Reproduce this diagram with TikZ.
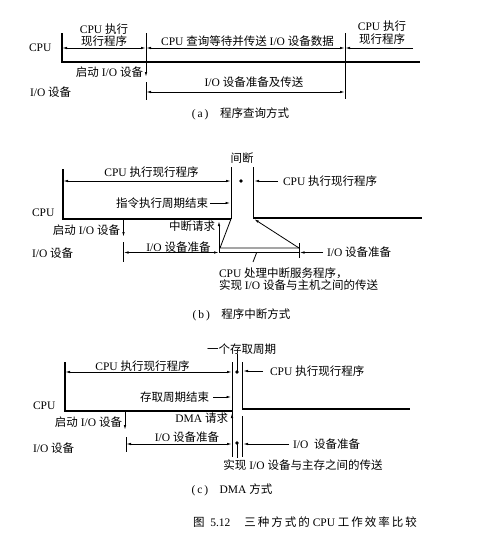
\documentclass[tikz,border=0pt]{standalone}
\usepackage{fontspec}
\setmainfont{Liberation Serif}
\newfontfamily\zhfont{Noto Sans CJK SC}
\usetikzlibrary{arrows.meta}
\newcommand\zh[1]{{\zhfont #1}}
\begin{document}
\begin{tikzpicture}[x=1pt,y=-1pt,
  font=\fontsize{11.5}{12.5}\selectfont,
  ln/.style={line width=0.8pt},
  base/.style={line width=1.1pt},
  arr/.style={ln,-{Latex[length=5pt,width=2.4pt]}},
  darr/.style={ln,{Latex[length=5pt,width=2.4pt]}-{Latex[length=5pt,width=2.4pt]}},
  lbl/.style={inner sep=0pt,outer sep=0pt},
  dot/.style={fill=black}]
\useasboundingbox[fill=white] (0,0) rectangle (490,554);

% ---------------- (a) ----------------
\node[lbl,anchor=west] (aCPU) at (29,48) {CPU};
\node[lbl,anchor=west] (aIO) at (30,92) {I/O \zh{设备}};
\draw[base] (62,33) -- (62,62) -- (420,62);
\draw[ln] (146,33) -- (146,62);
\draw[arr] (146,62) -- (146,77);
\draw[ln] (146,82) -- (146,100);
\draw[ln] (345,33) -- (345,99);
\draw[darr] (62,48) -- (146,48);
\draw[darr] (146,48) -- (345,48);
\draw[arr] (413,48) -- (345,48);
\draw[darr] (146,92) -- (345,92);
\node[lbl,align=center] (aL1) at (104,35.3) {CPU \zh{执行}\\\zh{现行程序}};
\node[lbl] (aL2) at (247.5,41) {CPU \zh{查询等待并传送} I/O \zh{设备数据}};
\node[lbl,align=center] (aL3) at (382,32.8) {CPU \zh{执行}\\\zh{现行程序}};
\node[lbl,anchor=east] (aL4) at (143,72) {\zh{启动} I/O \zh{设备}};
\node[lbl] (aL5) at (254,82.5) {I/O \zh{设备准备及传送}};
\node[lbl] (aCap) at (240.5,114) {(\,a\,)\quad\zh{程序查询方式}};

% ---------------- (b) ----------------
\node[lbl] (bGap) at (242,158) {\zh{间断}};
\node[lbl,anchor=west] (bCPU) at (32,213) {CPU};
\node[lbl,anchor=west] (bIO) at (32,253) {I/O \zh{设备}};
\draw[base] (63,169) -- (63,219) -- (231,219);
\draw[ln] (231,167) -- (231,219);
\draw[ln] (253,167) -- (253,218);
\draw[base] (253,218) -- (422,218);
\draw[darr] (63,181) -- (231,181);
\fill[dot] (241,181) circle[radius=1.8pt];
\draw[arr] (278,181) -- (254,181);
\draw[arr] (210,203) -- (230.5,203);
\draw[arr] (123.5,219) -- (123.5,237);
\draw[ln] (123.5,242) -- (123.5,262);
\draw[darr] (123.5,252.5) -- (219,252.5);
\draw[ln] (219,252.5) -- (299,252.5);
\draw[arr] (219,252.5) -- (219,221);
\draw[ln] (231,219) -- (220,248) -- (299,248);
\draw[arr] (299,248) -- (254,219);
\draw[ln] (299,243) -- (299,258);
\draw[arr] (323,252.5) -- (299.5,252.5);
\draw[ln] (256.5,253) -- (253,262);
\node[lbl] (bL1) at (151.5,172.5) {CPU \zh{执行现行程序}};
\node[lbl,anchor=west] (bL2) at (283,181) {CPU \zh{执行现行程序}};
\node[lbl,anchor=east] (bL3) at (208,203) {\zh{指令执行周期结束}};
\node[lbl,anchor=east] (bL4) at (120,230) {\zh{启动}\ I/O \zh{设备}};
\node[lbl,anchor=east] (bL5) at (215,226) {\zh{中断请求}};
\node[lbl] (bL6) at (178.5,247) {I/O \zh{设备准备}};
\node[lbl,anchor=west] (bL7) at (327,252) {I/O \zh{设备准备}};
\node[lbl,anchor=north west,align=left] (bL8) at (219,267.5) {CPU \zh{处理中断服务程序，}\\\zh{实现}\ I/O \zh{设备与主机之间的传送}};
\node[lbl] (bCap) at (241.5,315) {(\,b\,)\quad\zh{程序中断方式}};

% ---------------- (c) ----------------
\node[lbl] (cTop) at (241.7,349) {\zh{一个存取周期}};
\node[lbl,anchor=west] (cCPU) at (33,406) {CPU};
\node[lbl,anchor=west] (cIO) at (33,448) {I/O \zh{设备}};
\draw[base] (65,362) -- (65,411) -- (232,411);
\draw[ln] (232,362) -- (232,457);
\draw[ln] (242,362) -- (242,409);
\draw[ln] (242,416) -- (242,457);
\draw[base] (242,409) -- (410,409);
\draw[ln] (237,354) -- (237,372);
\fill[dot] (237,372) circle[radius=1.8pt];
\draw[ln] (237,443) -- (237,458);
\fill[dot] (237,443) circle[radius=1.8pt];
\draw[darr] (65,372) -- (232,372);
\draw[arr] (263,371) -- (243,371);
\draw[arr] (213,397) -- (231.5,397);
\draw[arr] (125,411) -- (125,430);
\draw[arr] (232,440) -- (232,413);
\draw[ln] (126,437) -- (126,452);
\draw[darr] (126,444) -- (232,444);
\draw[arr] (289,444) -- (243,444);
\node[lbl] (cL1) at (142.5,366) {CPU \zh{执行现行程序}};
\node[lbl,anchor=west] (cL2) at (270,371) {CPU \zh{执行现行程序}};
\node[lbl,anchor=east] (cL3) at (209,397) {\zh{存取周期结束}};
\node[lbl,anchor=east] (cL4) at (122,422) {\zh{启动}\ I/O \zh{设备}};
\node[lbl,anchor=east] (cL5) at (228,418) {DMA \zh{请求}};
\node[lbl] (cL6) at (187,437) {I/O \zh{设备准备}};
\node[lbl,anchor=west] (cL7) at (293,444) {I/O\ \ \zh{设备准备}};
\node[lbl] (cL8) at (303,465) {\zh{实现}\ I/O \zh{设备与主存之间的传送}};
\node[lbl] (cCap) at (232,490) {(\,c\,)\quad DMA \zh{方式}};

% ---------------- caption ----------------
\node[lbl,anchor=west] (fig) at (193,522) {\zh{图}\ \ 5.12\hspace{14pt}\zh{三\kern2pt 种\kern2pt 方\kern2pt 式\kern2pt 的}\ CPU\ \zh{工\kern2pt 作\kern2pt 效\kern2pt 率\kern2pt 比\kern2pt 较}};
\end{tikzpicture}
\end{document}
